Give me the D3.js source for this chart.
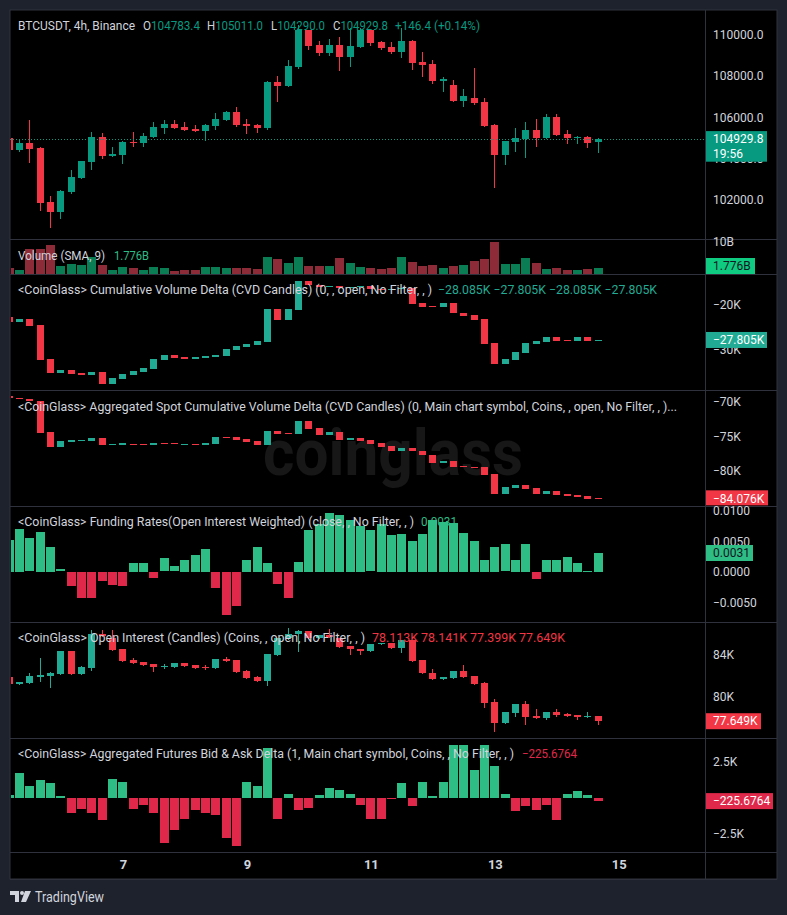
<!DOCTYPE html>
<html>
<head>
<meta charset="utf-8">
<script src="https://cdn.jsdelivr.net/npm/d3@7"></script>
<style>
html,body{margin:0;padding:0;background:#1e222d;}
svg{display:block;}
text{font-family:Roboto,"Open Sans",sans-serif;}
</style>
</head>
<body>
<div class="chart"></div>
<script>
// ---- data (BTCUSDT 4h, Binance) ----
const firstBar = Date.UTC(2025, 5, 5, 4)   // time of the first visible 4h bar
const dayTicks = [7, 9, 11, 13, 15]        // day-of-month labels on the time axis

// price candles [open, high, low, close]
const priceCandles = [
  [105000,105050,104400,104420],[104430,104930,104380,104750],[104750,105860,103830,104460],
  [104520,104570,101500,101850],[101890,102180,100680,101400],[101400,102470,101110,102420],
  [102370,103440,102330,103100],[103070,103900,103060,103880],[103830,105280,103490,105040],
  [105040,105230,104020,104120],[104130,104570,104120,104230],[104180,104850,103780,104800],
  [104800,105280,104620,104750],[104760,105230,104620,105090],[105040,105770,105040,105520],
  [105480,105860,105230,105670],[105670,105860,105470,105480],[105520,105770,105370,105380],
  [105430,105610,105320,105330],[105330,105670,104900,105620],[105570,106200,105430,105910],
  [105860,106300,105860,106250],[106250,106490,105570,105620],[105670,105910,105230,105570],
  [105620,105670,105280,105480],[105480,107760,105430,107710],[107710,108000,106780,107510],
  [107510,108770,107510,108480],[108430,110470,108380,110230],[110230,110230,109300,109450],
  [109500,109700,109020,109110],[109110,109790,109020,109500],[109500,109890,108290,108920],
  [108920,110320,108480,109450],[109400,110320,109400,110230],[110230,110230,109500,109600],
  [109650,109700,109310,109360],[109400,109650,109110,109160],[109160,110320,108920,109700],
  [109700,109740,108340,108630],[108680,109160,108000,108530],[108580,108770,107660,107760],
  [107760,107950,107270,107850],[107560,107800,106790,106790],[106790,107370,106540,107030],
  [106930,108390,106640,106690],[106740,106930,105570,105570],[105620,105670,102620,104170],
  [104170,104850,103730,104850],[104800,105480,104360,104990],[104940,105770,104070,105380],
  [105380,105910,104600,104990],[104990,106160,104990,106010],[106010,106160,105140,105140],
  [105190,105380,104750,104990],[105010,105090,104750,105060],[105040,105090,104560,104750],
  [104783.4,105011.0,104290.0,104929.8]
]
const priceTicks = [102000, 104000, 106000, 108000, 110000]

// volume, billions
const volumeB = [1.9,1.35,7.9,7.9,9.2,2.6,3.2,2.9,5.3,2.9,1.35,2.1,1.8,1.35,2.3,1.8,1.05,1.35,1.15,2.1,
  2.3,1.8,1.8,1.8,1.45,5.4,4.8,3.5,5.4,2.6,2.4,2.6,5.1,3.5,2.3,1.8,1.45,1.8,5.4,3.85,
  2.6,2.9,2.0,2.6,2.9,4.2,4.8,10.1,3.2,3.2,5.1,3.5,1.7,2.0,1.35,1.35,1.7,1.776]

// cumulative volume delta candles [open, close], thousands
const cvdCandles = [
  [-22.78,-23.87],[-23.81,-23.22],[-23.15,-24.68],[-24.46,-32.19],[-31.97,-34.97],
  [-34.97,-34.38],[-34.38,-35.25],[-34.97,-35.40],[-35.40,-34.75],[-34.75,-37.44],
  [-37.44,-36.13],[-36.35,-35.25],[-35.47,-34.53],[-34.75,-33.87],[-34.16,-31.97],
  [-32.19,-31.09],[-31.09,-31.68],[-31.53,-31.90],[-31.90,-31.53],[-31.68,-31.31],
  [-31.47,-31.09],[-31.25,-29.78],[-29.93,-29.12],[-29.28,-28.62],[-28.84,-28.03],
  [-28.18,-21.03],[-21.03,-23.37],[-23.37,-21.03],[-21.18,-14.90],[-14.90,-15.78],
  [-15.78,-16.20],[-16.20,-16.00],[-16.00,-16.50],[-16.50,-16.30],[-16.30,-16.00],
  [-16.00,-16.60],[-16.60,-16.90],[-16.90,-16.60],[-16.60,-16.43],[-16.43,-19.94],
  [-19.72,-20.53],[-20.40,-20.59],[-20.53,-19.72],[-19.72,-21.84],[-21.84,-22.49],
  [-22.34,-23.44],[-23.22,-28.69],[-28.40,-33.06],[-33.06,-31.97],[-32.19,-30.37],
  [-30.59,-28.40],[-28.69,-28.03],[-28.18,-27.16],[-27.16,-28.03],[-27.75,-27.97],
  [-27.97,-27.16],[-27.16,-28.03],[-28.085,-27.805]
]
const cvdTicks = [-30, -20]

// aggregated spot CVD candles [open, close], thousands
const spotCvdCandles = [
  [-69.17,-69.46],[-69.46,-69.65],[-69.65,-69.95],[-69.95,-74.49],[-74.35,-76.52],
  [-76.52,-75.70],[-75.80,-75.55],[-75.74,-75.55],[-75.65,-75.26],[-75.26,-76.32],
  [-76.32,-76.13],[-76.28,-76.03],[-76.09,-76.28],[-76.09,-76.32],[-76.32,-75.94],
  [-75.94,-76.09],[-75.99,-76.17],[-76.23,-76.09],[-76.09,-76.32],[-76.32,-75.94],
  [-76.09,-75.07],[-75.12,-75.26],[-75.12,-75.51],[-75.41,-75.80],[-75.70,-76.23],
  [-76.23,-74.25],[-74.29,-74.64],[-74.49,-74.72],[-74.72,-72.80],[-72.80,-73.91],
  [-73.77,-74.78],[-74.78,-74.39],[-74.39,-75.51],[-75.51,-75.26],[-75.26,-75.65],
  [-75.55,-76.09],[-75.94,-76.52],[-76.38,-77.10],[-77.10,-76.71],[-76.71,-77.19],
  [-77.14,-77.77],[-77.77,-78.84],[-78.84,-78.59],[-78.59,-79.42],[-79.32,-79.51],
  [-79.42,-79.65],[-79.51,-80.58],[-80.48,-83.33],[-83.33,-82.36],[-82.46,-82.12],
  [-82.12,-82.61],[-82.51,-83.33],[-83.33,-82.94],[-82.94,-83.52],[-83.42,-83.67],
  [-83.52,-83.77],[-83.67,-84.06],[-83.95,-84.076]
]
const spotCvdTicks = [-80, -75, -70]

// funding rate, OI weighted
const fundingRates = [0.0053,0.0071,0.0055,0.0066,0.0041,0.0004,-0.0023,-0.0043,-0.0043,-0.0015,
  -0.0022,-0.0023,0.0014,0.0014,-0.0010,0.0022,0.0009,0.0020,0.0028,0.0038,
  -0.0027,-0.0071,-0.0056,0.0020,0.0041,0.0014,-0.0019,-0.0043,0.0017,0.0069,
  0.0079,0.0097,0.0094,0.0086,0.0076,0.0068,0.0079,0.0061,0.0063,0.0051,
  0.0063,0.0086,0.0082,0.0081,0.0064,0.0051,0.0019,0.0041,0.0045,0.0020,
  0.0046,-0.0011,0.0019,0.0019,0.0025,0.0015,0.0001,0.0031]
const fundingTicks = [-0.005, 0, 0.005, 0.01]

// open interest candles [open, high, low, close], thousand coins
const oiCandles = [
  [81.89,81.89,81.25,81.25],[81.25,81.44,81.25,81.44],[81.34,82.27,81.34,81.99],[81.89,83.71,81.51,82.08],
  [82.02,82.40,80.96,82.30],[82.18,84.39,82.18,84.39],[84.39,84.39,82.18,82.18],[82.18,82.90,82.18,82.85],
  [82.75,86.40,82.56,86.02],[86.02,86.40,85.80,85.80],[85.63,86.40,84.48,84.48],[84.58,84.58,83.43,83.43],
  [83.52,83.71,83.21,83.21],[83.36,83.36,83.04,83.04],[83.17,83.17,82.47,82.85],[82.88,83.10,82.75,82.97],
  [82.88,83.26,82.88,83.26],[83.26,83.26,82.97,82.97],[83.04,83.04,82.78,82.78],[82.88,83.04,82.65,82.78],
  [82.78,83.62,82.78,83.62],[83.62,83.81,83.43,83.43],[83.52,83.52,82.40,82.40],[82.47,82.56,81.82,81.82],
  [81.89,81.99,81.54,81.54],[81.54,84.10,81.15,84.10],[84.00,85.63,84.00,85.63],[85.63,86.60,85.50,86.00],
  [86.00,86.40,84.40,86.30],[86.30,86.30,85.63,85.63],[85.63,85.95,85.60,85.90],[85.90,86.50,85.70,85.70],
  [85.63,85.63,84.77,84.77],[84.87,84.87,84.10,84.58],[84.58,84.58,84.10,84.41],[84.41,85.06,84.41,85.06],
  [85.06,85.15,85.06,85.15],[85.12,85.12,84.68,84.68],[84.68,85.44,84.33,85.44],[85.44,85.44,83.43,83.43],
  [83.52,83.52,82.25,82.25],[82.30,82.65,81.70,81.70],[81.70,81.89,81.70,81.89],[81.82,82.47,81.82,82.47],
  [82.47,83.07,81.92,81.92],[81.99,81.99,81.25,81.25],[81.31,81.44,79.04,79.40],[79.52,79.78,76.74,77.50],
  [77.50,78.53,77.50,78.53],[78.44,79.30,78.18,79.30],[79.30,79.59,77.41,78.08],[78.15,78.82,77.98,77.98],
  [77.98,78.53,77.89,78.53],[78.53,78.82,78.15,78.24],[78.34,78.40,78.15,78.15],[78.22,78.22,77.89,78.05],
  [78.05,78.53,78.05,78.15],[78.113,78.141,77.399,77.649]
]
const oiTicks = [80, 84]

// aggregated futures bid & ask delta, thousands
const bidAskDelta = [0.18,1.73,0.83,1.25,1.04,0.14,-1.04,-0.76,-1.04,-1.52,
  1.31,1.11,-0.76,-0.48,-1.04,-3.11,-2.21,-1.45,-0.83,-1.04,
  -1.18,-2.77,-3.32,1.11,0.83,3.43,-1.45,0.28,-0.83,-0.69,
  0.22,0.71,0.57,0.28,-0.48,-1.45,-1.45,-0.03,1.04,-0.55,
  1.11,0.14,1.11,3.64,3.64,1.94,3.64,2.21,0.28,-0.90,
  -0.55,-0.83,-0.48,-1.52,0.28,0.48,0.20,-0.2256764]
const deltaTicks = [-2.5, 2.5]

// ---- layout ----
const W = 787, H = 915
const plotL = 10, axisX = 705, right = 777
const grey = "#d1d4dc", line = "#2f323d"
const up = "#089981", down = "#f23645"
const cvdUp = "#22ab94", frUp = "#2ebd85", frDown = "#e0294a"

const svg = d3.select(".chart").append("svg").attr("width", W).attr("height", H)
svg.append("rect").attr("width", W).attr("height", H).attr("fill", "#1e222d")
svg.append("rect").attr("x", plotL).attr("y", 10).attr("width", right - plotL).attr("height", 869)
  .attr("fill", "#000").attr("stroke", line)

const barTime = i => new Date(firstBar + i * 4 * 3600e3)
const x = d3.scaleUtc()
  .domain([new Date(firstBar), new Date(Date.UTC(2025, 5, 15))])
  .range([9.3, 618.8])

// y scales for each pane
const yPrice = d3.scaleLinear().domain([102000, 110000]).range([199.7, 34.7])
const yVol = d3.scaleLinear().domain([0, 10]).range([274, 242])
const yCvd = d3.scaleLinear().domain([-30, -20]).range([350, 304.3])
const ySpot = d3.scaleLinear().domain([-80, -70]).range([470.7, 401.7])
const yFr = d3.scaleLinear().domain([-0.005, 0.01]).range([602.3, 511])
const yOi = d3.scaleLinear().domain([80, 84]).range([696.7, 655])
const yDelta = d3.scaleLinear().domain([-2.5, 2.5]).range([834, 761.7])

const paneEdges = [[10, 239], [239, 274], [274, 390], [390, 506], [506, 622], [622, 738], [738, 852]]

// separators
paneEdges.forEach(p => {
  svg.append("line").attr("x1", plotL).attr("x2", right).attr("y1", p[1] + 0.5).attr("y2", p[1] + 0.5)
    .attr("stroke", line)
})
svg.append("line").attr("x1", plotL).attr("x2", right).attr("y1", 879.5).attr("y2", 879.5).attr("stroke", line)
svg.append("line").attr("x1", axisX + 0.5).attr("x2", axisX + 0.5).attr("y1", 10).attr("y2", 879).attr("stroke", line)

const defs = svg.append("defs")
paneEdges.forEach((p, k) => {
  defs.append("clipPath").attr("id", "clip" + k).append("rect")
    .attr("x", plotL + 1).attr("y", p[0] + 1).attr("width", axisX - plotL - 1).attr("height", p[1] - p[0] - 1)
})

// watermark in the spot CVD pane
svg.append("text").attr("x", 393).attr("y", 475).attr("text-anchor", "middle")
  .attr("font-size", 64).attr("font-weight", 700).attr("fill", "#171717")
  .attr("textLength", 260).attr("lengthAdjust", "spacingAndGlyphs")
  .text("coinglass")

function drawCandles(k, rows, y, upCol, downCol, wicks) {
  const g = svg.append("g").attr("clip-path", "url(#clip" + k + ")")
  rows.forEach((r, i) => {
    const o = r[0], c = r[r.length - 1]
    const hi = r.length === 4 ? r[1] : Math.max(o, c)
    const lo = r.length === 4 ? r[2] : Math.min(o, c)
    const col = c >= o ? upCol : downCol
    const bx = Math.round(x(barTime(i)) - 3.5)
    if (wicks) {
      g.append("line").attr("x1", bx + 3.5).attr("x2", bx + 3.5)
        .attr("y1", Math.round(y(hi))).attr("y2", Math.round(y(lo)) + 1).attr("stroke", col)
    }
    const top = Math.round(y(Math.max(o, c))), bot = Math.round(y(Math.min(o, c)))
    g.append("rect").attr("x", bx).attr("y", top).attr("width", 7)
      .attr("height", Math.max(1, bot - top)).attr("fill", col)
  })
}

function drawBars(k, vals, y, colorOf) {
  const g = svg.append("g").attr("clip-path", "url(#clip" + k + ")")
  g.selectAll("rect").data(vals).enter().append("rect")
    .attr("x", (d, i) => Math.round(x(barTime(i)) - 4.5))
    .attr("width", 9)
    .attr("y", d => Math.round(Math.min(y(0), y(d))))
    .attr("height", d => Math.max(1, Math.round(Math.abs(y(d) - y(0)))))
    .attr("fill", colorOf)
}

drawCandles(0, priceCandles, yPrice, up, down, true)
drawBars(1, volumeB, yVol, (d, i) => priceCandles[i][3] >= priceCandles[i][0] ? "#0b7d55" : "#8e2b38")
drawCandles(2, cvdCandles, yCvd, cvdUp, down, false)
drawCandles(3, spotCvdCandles, ySpot, cvdUp, down, false)
drawBars(4, fundingRates, yFr, d => d >= 0 ? frUp : frDown)
drawCandles(5, oiCandles, yOi, cvdUp, down, true)
drawBars(6, bidAskDelta, yDelta, d => d >= 0 ? frUp : frDown)

// current price dotted line
const last = priceCandles[priceCandles.length - 1]
svg.append("line").attr("x1", plotL).attr("x2", axisX).attr("y1", Math.round(yPrice(last[3])) + 0.5)
  .attr("y2", Math.round(yPrice(last[3])) + 0.5).attr("stroke", up).attr("stroke-dasharray", "1,2")

// ---- price axes ----
function axisTicks(y, ticks, fmt) {
  const ax = d3.axisRight(y).tickValues(ticks).tickFormat(fmt).tickSize(0).tickPadding(0)
  const g = svg.append("g").attr("transform", "translate(713,0)").call(ax)
  g.select(".domain").remove()
  g.selectAll("text").attr("fill", grey).attr("font-size", 12).attr("font-family", "Roboto, sans-serif")
}
const minus = s => s.replace("-", "\u2212")
axisTicks(yPrice, priceTicks, d => d3.format(".1f")(d))
axisTicks(yVol, [10], d => d + "B")
axisTicks(yCvd, cvdTicks, d => minus(d + "K"))
axisTicks(ySpot, spotCvdTicks, d => minus(d + "K"))
axisTicks(yFr, fundingTicks, d => minus(d3.format(".4f")(d)))
axisTicks(yOi, oiTicks, d => d + "K")
axisTicks(yDelta, deltaTicks, d => minus(d + "K"))

function priceLabel(yc, h, w, bg, fg, lines) {
  svg.append("rect").attr("x", axisX + 1).attr("y", yc - h / 2).attr("width", w).attr("height", h).attr("fill", bg)
  lines.forEach((s, j) => {
    svg.append("text").attr("x", 713).attr("y", yc - h / 2 + 8 + j * 15).attr("dy", "0.35em")
      .attr("fill", fg).attr("font-size", 12).text(s)
  })
}
priceLabel(146.4, 30.6, 61, up, "#fff", [d3.format(".1f")(last[3]), "19:56"])
priceLabel(266, 16, 49, "#0ecb81", "#131722", [d3.format(".3f")(volumeB[57]) + "B"])
priceLabel(yCvd(cvdCandles[57][1]), 16, 61, cvdUp, "#fff", [minus(d3.format(".3f")(cvdCandles[57][1]) + "K")])
priceLabel(ySpot(spotCvdCandles[57][1]) - 1, 15, 62, down, "#fff", [minus(d3.format(".3f")(spotCvdCandles[57][1]) + "K")])
priceLabel(yFr(fundingRates[57]), 16, 47, frUp, "#131722", [d3.format(".4f")(fundingRates[57])])
priceLabel(yOi(oiCandles[57][3]), 16, 55, down, "#fff", [d3.format(".3f")(oiCandles[57][3]) + "K"])
priceLabel(yDelta(bidAskDelta[57]), 16, 67, frDown, "#fff", [minus(d3.format(".4f")(bidAskDelta[57] * 1000))])

// ---- time axis ----
const tAx = d3.axisBottom(x).tickValues(dayTicks.map(d => new Date(Date.UTC(2025, 5, d))))
  .tickFormat(d3.utcFormat("%-d")).tickSize(0).tickPadding(0)
const tg = svg.append("g").attr("transform", "translate(0,860)").call(tAx)
tg.select(".domain").remove()
tg.selectAll("text").attr("fill", grey).attr("font-size", 13).attr("font-weight", 700)
  .attr("font-family", "Roboto, sans-serif")

// ---- legends ----
function label(xp, yp, parts, len, size) {
  const t = svg.append("text").attr("x", xp).attr("y", yp).attr("dy", "0.35em").attr("font-size", size || 12)
  parts.forEach(p => t.append("tspan").attr("fill", p[1]).text(p[0]))
  if (len) t.attr("textLength", len).attr("lengthAdjust", "spacingAndGlyphs")
}
const fmtP = d3.format(".1f")
label(18, 25, [["BTCUSDT, 4h, Binance", grey]], 117, 13)
label(143, 25, [["O", grey], [fmtP(last[0]), up]], 57, 13)
label(207, 25, [["H", grey], [fmtP(last[1]), up]], 56, 13)
label(271, 25, [["L", grey], [fmtP(last[2]), up]], 54, 13)
label(333, 25, [["C", grey], [fmtP(last[3]), up]], 55, 13)
label(395, 25, [["+146.4 (+0.14%)", up]], 85, 13)

label(18, 256, [["Volume (SMA, 9)", grey]], 87)
label(114, 256, [["1.776B", "#2ebd85"]], 35)

const cvdLast = [-28.085, -27.805, -28.085, -27.805]
label(18, 290, [["<CoinGlass> Cumulative Volume Delta (CVD Candles) (0, , open, No Filter, , )", grey]], 414)
label(438, 290, [[cvdLast.map(v => minus(d3.format(".3f")(v) + "K")).join("  "), cvdUp]], 219)

label(18, 407, [["<CoinGlass> Aggregated Spot Cumulative Volume Delta (CVD Candles) (0, Main chart symbol, Coins, , open, No Filter, , )...", grey]], 659)

label(18, 522, [["<CoinGlass> Funding Rates(Open Interest Weighted) (close, , No Filter, , )", grey]], 396)
label(421, 522, [[d3.format(".4f")(fundingRates[57]), "#2ebd85"]], 36)

label(18, 638, [["<CoinGlass> Open Interest (Candles) (Coins, , open, No Filter, , )", grey]], 347)
label(372, 638, [[oiCandles[57].map(v => d3.format(".3f")(v) + "K").join("  "), down]], 193)

label(18, 754, [["<CoinGlass> Aggregated Futures Bid & Ask Delta (1, Main chart symbol, Coins, , No Filter, , )", grey]], 496)
label(522, 754, [[minus(d3.format(".4f")(bidAskDelta[57] * 1000)), frDown]], 55)

// ---- TradingView mark ----
const logo = svg.append("g").attr("fill", grey)
logo.append("path").attr("d", "M10 891h9v11h-4v-7h-5z")
logo.append("circle").attr("cx", 22).attr("cy", 893).attr("r", 2)
logo.append("path").attr("d", "M25 891h6l-5 11h-5z")
svg.append("text").attr("x", 35).attr("y", 897).attr("dy", "0.35em").attr("font-size", 15)
  .attr("fill", grey).attr("textLength", 69).attr("lengthAdjust", "spacingAndGlyphs").text("TradingView")
</script>
</body>
</html>
